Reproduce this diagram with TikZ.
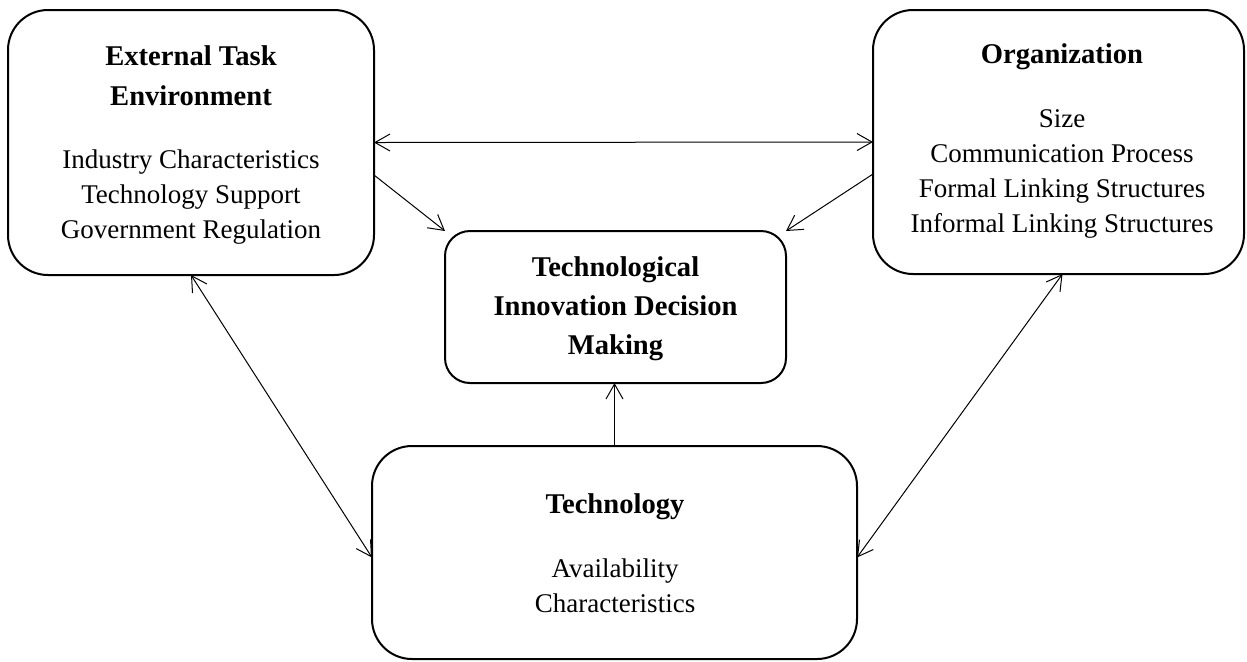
\documentclass[tikz,border=0pt]{standalone}
\usepackage{fontspec}
\setmainfont{Liberation Serif}
\usetikzlibrary{arrows.meta,calc}
\tikzset{
  box/.style={draw, line width=1pt, inner sep=0pt, outer sep=0pt, rounded corners=20pt},
  cbox/.style={draw, line width=1pt, inner sep=0pt, outer sep=0pt, rounded corners=12.5pt},
  ttl/.style={anchor=base, inner sep=0pt, align=center, font=\fontsize{14.3}{19.5}\selectfont\bfseries},
  bdy/.style={anchor=base, inner sep=0pt, align=center, font=\fontsize{13.5}{17.5}\selectfont},
  conn/.style={line width=0.5pt, -{Straight Barb[length=7.5pt,width=8.5pt]}},
  dconn/.style={line width=0.5pt, {Straight Barb[length=7.5pt,width=8.5pt]}-{Straight Barb[length=7.5pt,width=8.5pt]}}
}
\begin{document}
\begin{tikzpicture}[x=0.5pt,y=-0.5pt]
\useasboundingbox (0,0) rectangle (1247,661);
% boxes
\node[box, minimum width=183pt, minimum height=132.5pt] (L) at (191,142.5) {};
\node[box, minimum width=185.5pt, minimum height=132pt] (R) at (1058.5,142) {};
\node[cbox, minimum width=170.5pt, minimum height=76pt] (C) at (615.5,307) {};
\node[box, minimum width=242.5pt, minimum height=106.5pt] (B) at (614.5,552.5) {};
% texts (anchor = baseline of the last line)
\node[ttl, font=\fontsize{14.3}{20}\selectfont\bfseries] (Lt) at (191,105) {External Task\\Environment};
\node[bdy] (Lb) at (191,238) {Industry Characteristics\\Technology Support\\Government Regulation};
\node[ttl] (Rt) at (1062,63) {Organization};
\node[bdy] (Rb) at (1062,232) {Size\\Communication Process\\Formal Linking Structures\\Informal Linking Structures};
\node[ttl] (Ct) at (615.5,354) {Technological\\Innovation Decision\\Making};
\node[ttl] (Bt) at (615,513) {Technology};
\node[bdy] (Bb) at (615,612) {Availability\\Characteristics};
% connectors
\draw[dconn] (L.east) -- (R.west);
\draw[conn] ($(L.east)+(0,32.5)$) -- (C.north west);
\draw[conn] ($(R.west)+(0,32)$) -- (C.north east);
\draw[conn] (B.north) -- (B.north |- C.south);
\draw[dconn] (L.south) -- ($(B.west)+(0,5)$);
\draw[dconn] ($(R.south)+(4,0)$) -- ($(B.east)+(0,5)$);
\end{tikzpicture}
\end{document}
